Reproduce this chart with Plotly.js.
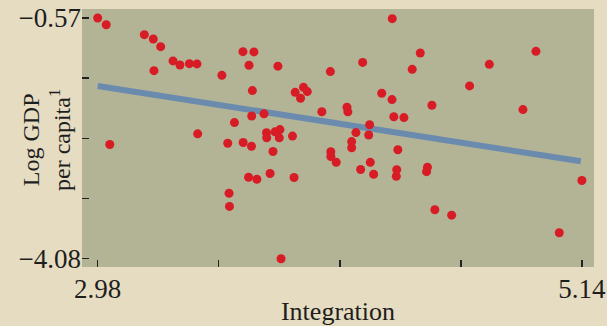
<!DOCTYPE html>
<html>
<head>
<meta charset="utf-8">
<script src="https://cdn.plot.ly/plotly-3.0.1.min.js"></script>
<style>html,body{margin:0;padding:0;background:#e6dcc1;}</style>
</head>
<body>
<div id="chart" style="width:607px;height:326px;"></div>
<script>
// Integration (x) vs Log GDP per capita (y)
const integration = [
  2.980, 3.018, 3.188, 3.228, 3.261, 3.316, 3.347, 3.389, 3.423, 3.231,
  3.034, 3.426, 3.534, 3.628, 3.677, 3.655, 3.784, 3.670, 3.590, 3.560,
  3.629, 3.666, 3.667, 3.722, 3.733, 3.734, 3.771, 3.793, 3.790, 3.849,
  3.762, 3.653, 3.690, 3.749, 3.856, 3.566, 3.568, 3.798, 3.861, 3.898,
  3.915, 3.885, 4.018, 3.980, 4.092, 4.096, 4.020, 4.020, 4.044, 4.113,
  4.113, 4.132, 4.189, 4.193, 4.153, 4.196, 4.211, 4.162, 4.247, 4.294,
  4.293, 4.301, 4.346, 4.319, 4.314, 4.312, 4.383, 4.419, 4.471, 4.451,
  4.447, 4.484, 4.559, 4.639, 4.727, 4.877, 4.935, 5.039, 5.140
];
const logGdp = [
  -0.570, -0.668, -0.813, -0.876, -0.988, -1.196, -1.255, -1.236, -1.240, -1.338,
  -2.415, -2.259, -1.406, -1.061, -1.065, -1.260, -1.272, -1.629, -2.095, -2.396,
  -2.386, -2.440, -2.000, -1.968, -2.243, -2.316, -2.230, -2.197, -2.318, -2.292,
  -2.517, -2.892, -2.922, -2.838, -2.896, -3.125, -3.318, -4.080, -1.654, -1.581,
  -1.643, -1.741, -1.352, -1.938, -1.872, -1.939, -2.520, -2.590, -2.673, -2.372,
  -2.462, -2.241, -2.277, -2.127, -2.779, -2.675, -2.848, -1.218, -1.668, -0.580,
  -1.760, -2.010, -2.022, -2.492, -2.782, -2.877, -1.319, -1.080, -1.843, -2.746,
  -2.811, -3.366, -3.445, -1.560, -1.246, -1.906, -1.056, -3.701, -2.940
];
// fitted line end points
const fitX = [2.98, 5.135];
const fitY = [-1.563, -2.659];

const xTickVals = [2.98, 3.52, 4.06, 4.60, 5.14];
const xTickText = ["2.98", "", "", "", "5.14"];
const yTickVals = [-0.57, -1.4475, -2.325, -3.2025, -4.08];
const yTickText = ["\u22120.57", "", "", "", "\u22124.08"];
const xTitle = 'Integration';
const yTitle = 'Log GDP<br>per capita<sup>1</sup>';

const serif = '"Liberation Serif", "Times New Roman", serif';

const traces = [
  {
    x: fitX, y: fitY, type: 'scatter', mode: 'lines',
    line: {color: '#6b8bae', width: 6},
    hoverinfo: 'skip', showlegend: false
  },
  {
    x: integration, y: logGdp, type: 'scatter', mode: 'markers',
    marker: {color: '#d81c26', size: 9, line: {width: 0}},
    showlegend: false
  }
];

const layout = {
  width: 607, height: 326,
  margin: {l: 82, r: 13, t: 9, b: 59},
  paper_bgcolor: '#e6dcc1',
  plot_bgcolor: '#b3b396',
  font: {family: serif, color: '#1e1e1e'},
  xaxis: {
    range: [2.91, 5.194],
    tickmode: 'array', tickvals: xTickVals, ticktext: xTickText,
    ticks: 'inside', ticklen: 7, tickwidth: 1.5, tickcolor: '#222',
    ticklabelstandoff: 3,
    showgrid: false, zeroline: false, showline: false,
    tickfont: {family: serif, size: 27, color: '#1e1e1e'},
    title: {text: xTitle, font: {family: serif, size: 26, color: '#1e1e1e'}, standoff: 4}
  },
  yaxis: {
    range: [-4.201, -0.439],
    tickmode: 'array', tickvals: yTickVals, ticktext: yTickText,
    ticks: 'inside', ticklen: 7, tickwidth: 1.5, tickcolor: '#222',
    showgrid: false, zeroline: false, showline: false,
    tickfont: {family: serif, size: 27, color: '#1e1e1e'}
  },
  annotations: [{
    text: yTitle, textangle: -90,
    xref: 'paper', yref: 'paper', x: 0, y: 0.5,
    xanchor: 'center', yanchor: 'middle', xshift: -36, yshift: -2,
    showarrow: false, align: 'center',
    font: {family: serif, size: 24, color: '#1e1e1e'}
  }]
};

Plotly.newPlot('chart', traces, layout, {displayModeBar: false, staticPlot: true});
</script>
</body>
</html>
